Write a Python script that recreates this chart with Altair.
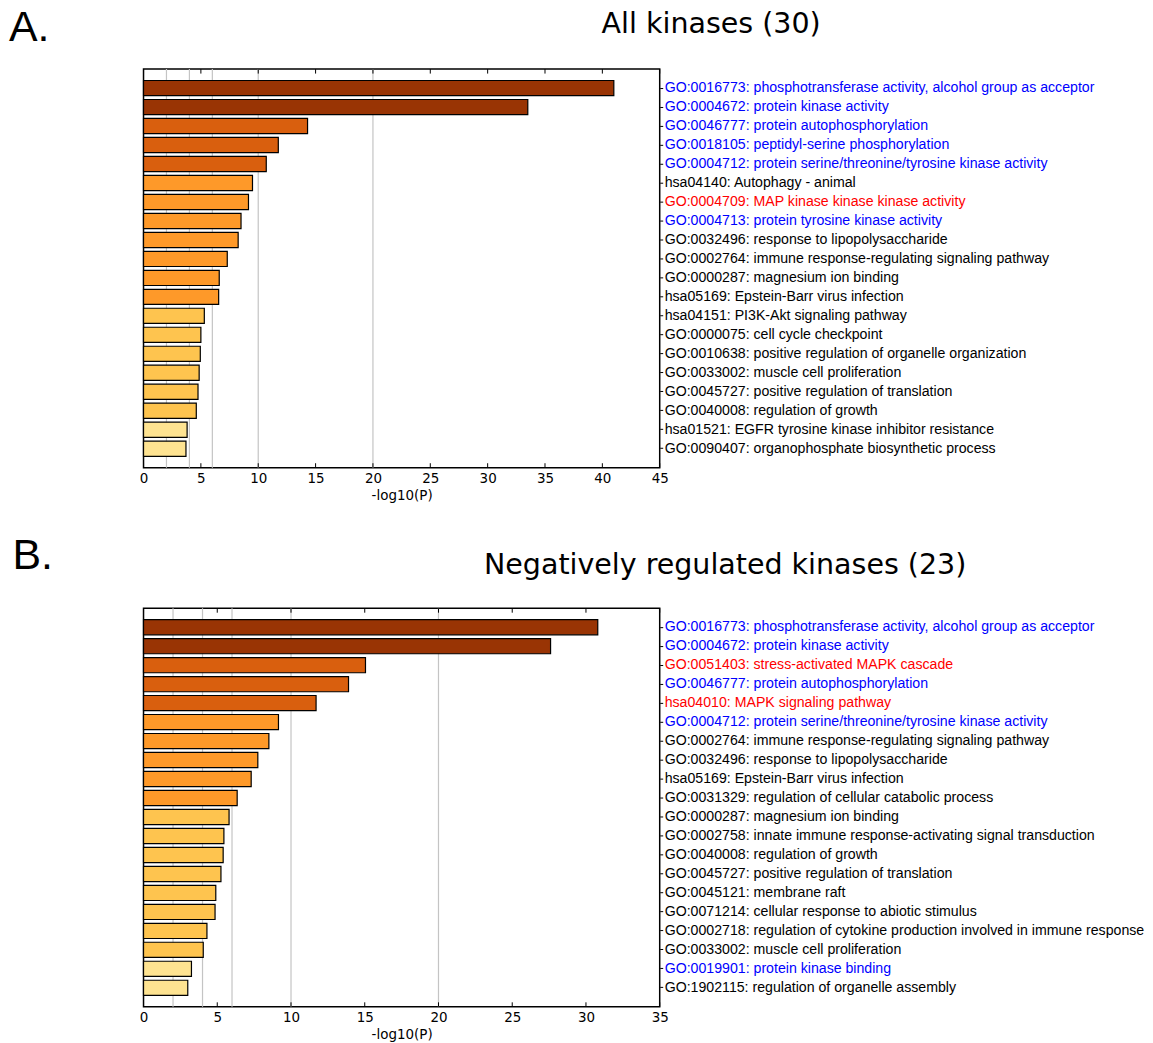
import altair as alt
import pandas as pd

# ---------------- data ----------------
a_labels = [
    "GO:0016773: phosphotransferase activity, alcohol group as acceptor",
    "GO:0004672: protein kinase activity",
    "GO:0046777: protein autophosphorylation",
    "GO:0018105: peptidyl-serine phosphorylation",
    "GO:0004712: protein serine/threonine/tyrosine kinase activity",
    "hsa04140: Autophagy - animal",
    "GO:0004709: MAP kinase kinase kinase activity",
    "GO:0004713: protein tyrosine kinase activity",
    "GO:0032496: response to lipopolysaccharide",
    "GO:0002764: immune response-regulating signaling pathway",
    "GO:0000287: magnesium ion binding",
    "hsa05169: Epstein-Barr virus infection",
    "hsa04151: PI3K-Akt signaling pathway",
    "GO:0000075: cell cycle checkpoint",
    "GO:0010638: positive regulation of organelle organization",
    "GO:0033002: muscle cell proliferation",
    "GO:0045727: positive regulation of translation",
    "GO:0040008: regulation of growth",
    "hsa01521: EGFR tyrosine kinase inhibitor resistance",
    "GO:0090407: organophosphate biosynthetic process",
]
a_values = [41.0, 33.5, 14.3, 11.75, 10.7, 9.5, 9.15, 8.5, 8.25, 7.3,
            6.6, 6.55, 5.3, 5.0, 4.95, 4.85, 4.75, 4.6, 3.8, 3.7]
a_levels = [1, 1, 2, 2, 2, 3, 3, 3, 3, 3, 3, 3, 4, 4, 4, 4, 4, 4, 5, 5]
a_groups = ["kinase", "kinase", "kinase", "kinase", "kinase", "other", "mapk", "kinase",
            "other", "other", "other", "other", "other", "other", "other", "other",
            "other", "other", "other", "other"]

b_labels = [
    "GO:0016773: phosphotransferase activity, alcohol group as acceptor",
    "GO:0004672: protein kinase activity",
    "GO:0051403: stress-activated MAPK cascade",
    "GO:0046777: protein autophosphorylation",
    "hsa04010: MAPK signaling pathway",
    "GO:0004712: protein serine/threonine/tyrosine kinase activity",
    "GO:0002764: immune response-regulating signaling pathway",
    "GO:0032496: response to lipopolysaccharide",
    "hsa05169: Epstein-Barr virus infection",
    "GO:0031329: regulation of cellular catabolic process",
    "GO:0000287: magnesium ion binding",
    "GO:0002758: innate immune response-activating signal transduction",
    "GO:0040008: regulation of growth",
    "GO:0045727: positive regulation of translation",
    "GO:0045121: membrane raft",
    "GO:0071214: cellular response to abiotic stimulus",
    "GO:0002718: regulation of cytokine production involved in immune response",
    "GO:0033002: muscle cell proliferation",
    "GO:0019901: protein kinase binding",
    "GO:1902115: regulation of organelle assembly",
]
b_values = [30.8, 27.6, 15.05, 13.9, 11.7, 9.15, 8.5, 7.75, 7.3, 6.35,
            5.8, 5.45, 5.4, 5.25, 4.9, 4.85, 4.3, 4.05, 3.25, 3.0]
b_levels = [1, 1, 2, 2, 2, 3, 3, 3, 3, 3, 4, 4, 4, 4, 4, 4, 4, 4, 5, 5]
b_groups = ["kinase", "kinase", "mapk", "kinase", "mapk", "kinase", "other", "other",
            "other", "other", "other", "other", "other", "other", "other", "other",
            "other", "other", "kinase", "other"]

grid_values = [2, 4, 6, 10, 20]
a_ticks = [0, 5, 10, 15, 20, 25, 30, 35, 40, 45]
b_ticks = [0, 5, 10, 15, 20, 25, 30, 35]

level_domain = [1, 2, 3, 4, 5]
level_colors = ["#993404", "#d95f0e", "#fe9929", "#fec44f", "#fee391"]
group_domain = ["kinase", "mapk", "other"]
group_colors = ["#0000ff", "#ff0000", "#000000"]

W = 518
H = 400
LABEL_FONT = "Liberation Sans, Arial, sans-serif"
AXIS_FONT = "DejaVu Sans"


def panel(labels, values, levels, groups, ticks, letter, title,
          letter_x, letter_y, title_x, title_y):
    xmax = ticks[-1]
    df = pd.DataFrame({"label": labels, "value": values,
                       "level": levels, "group": groups})
    xscale = alt.Scale(domain=[0, xmax], nice=False, zero=True)
    xaxis = alt.Axis(values=ticks, ticks=False, domain=False, grid=False,
                     title="-log10(P)", labelFont=AXIS_FONT,
                     labelFontSize=13.5, labelColor="black",
                     labelFlush=False, labelPadding=4,
                     titleFont=AXIS_FONT, titleFontSize=13.5,
                     titleFontWeight="normal", titleColor="black",
                     titlePadding=3.5)
    yaxis = alt.Axis(orient="right", labels=False, domain=False,
                     ticks=True, tickSize=3, tickColor="black",
                     grid=False, title=None)
    yscale = alt.Scale(paddingInner=0.2, paddingOuter=0.6)

    grid = alt.Chart(pd.DataFrame({"g": grid_values})).mark_rule(
        color="#c4c4c4", strokeWidth=1.2
    ).encode(x=alt.X("g:Q", scale=xscale, axis=xaxis, title="-log10(P)"))

    bars = alt.Chart(df).mark_bar(stroke="black", strokeWidth=1.2).encode(
        x=alt.X("value:Q", scale=xscale, axis=xaxis, title="-log10(P)"),
        y=alt.Y("label:N", sort=None, scale=yscale, axis=yaxis),
        color=alt.Color("level:O", scale=alt.Scale(domain=level_domain,
                                                   range=level_colors),
                        legend=None),
    )

    tdf = pd.DataFrame({"t": ticks})
    ticks_bottom = alt.Chart(tdf).mark_rule(color="black", strokeWidth=1).encode(
        x=alt.X("t:Q", scale=xscale, axis=xaxis, title="-log10(P)"),
        y=alt.value(H), y2=alt.value(H - 4.5))
    ticks_top = alt.Chart(tdf).mark_rule(color="black", strokeWidth=1).encode(
        x=alt.X("t:Q", scale=xscale, axis=xaxis, title="-log10(P)"),
        y=alt.value(0), y2=alt.value(4.5))

    names = alt.Chart(df).mark_text(
        align="left", baseline="middle", font=LABEL_FONT, fontSize=14.2
    ).encode(
        x=alt.value(W + 5),
        y=alt.Y("label:N", sort=None, scale=yscale, axis=yaxis),
        text="label:N",
        color=alt.Color("group:N", scale=alt.Scale(domain=group_domain,
                                                   range=group_colors),
                        legend=None),
    )

    letter_mark = alt.Chart(pd.DataFrame({"t": [letter]})).mark_text(
        align="left", baseline="alphabetic", font=LABEL_FONT, fontSize=43,
        color="black"
    ).encode(x=alt.value(letter_x), y=alt.value(letter_y), text="t:N")

    title_mark = alt.Chart(pd.DataFrame({"t": [title]})).mark_text(
        align="left", baseline="alphabetic", font=AXIS_FONT, fontSize=28.6,
        color="black"
    ).encode(x=alt.value(title_x), y=alt.value(title_y), text="t:N")

    return alt.layer(
        grid, bars, ticks_bottom, ticks_top, names, letter_mark, title_mark
    ).resolve_scale(color="independent").properties(width=W, height=H)


pa = panel(a_labels, a_values, a_levels, a_groups, a_ticks,
           "A.", "All kinases (30)", -135, -28.3, 459.7, -36.6)
pb = panel(b_labels, b_values, b_levels, b_groups, b_ticks,
           "B.", "Negatively regulated kinases (23)", -131.6, -39, 341.7, -34)

chart = alt.vconcat(pa, pb, spacing=31).configure(
    padding={"top": -4.5, "left": 0, "right": 0, "bottom": 0}
).configure_view(stroke="black", strokeWidth=1.5)

chart.save("out.html", embed_options={"renderer": "svg", "actions": False})
